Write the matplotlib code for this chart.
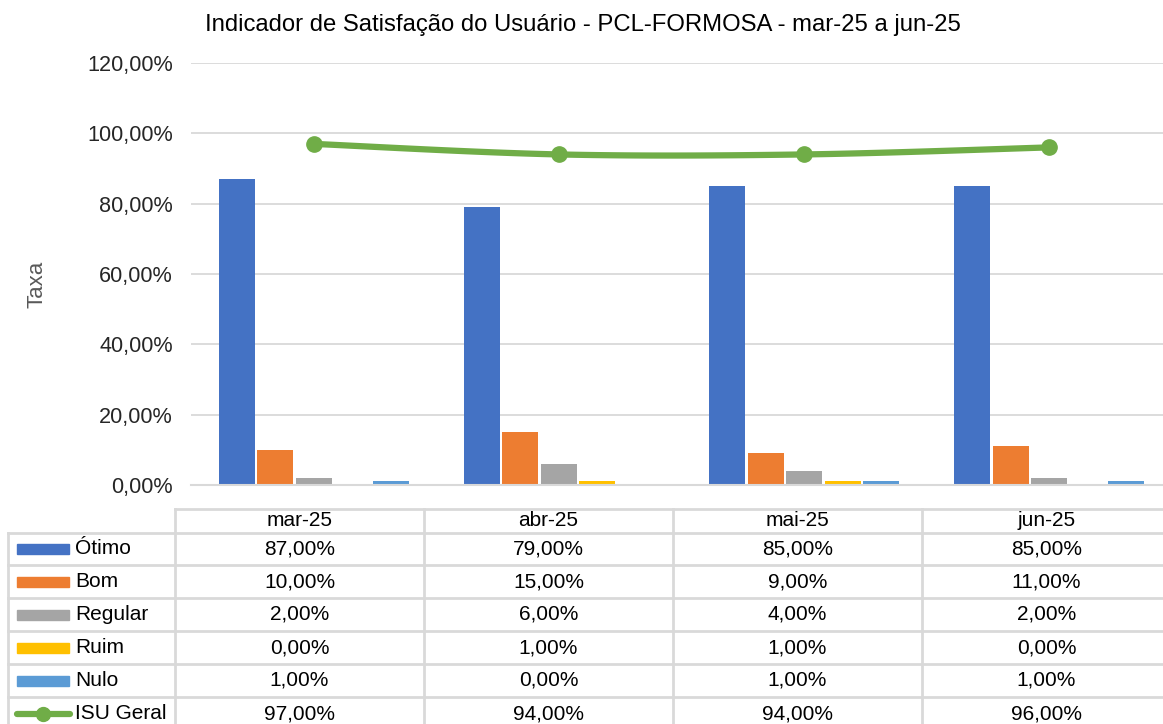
import matplotlib.pyplot as plt
from matplotlib.lines import Line2D
from matplotlib.patches import Rectangle
import numpy as np

plt.rcParams['font.family'] = ['Liberation Sans', 'DejaVu Sans']

meses = ['mar-25', 'abr-25', 'mai-25', 'jun-25']
otimo = [87, 79, 85, 85]
bom = [10, 15, 9, 11]
regular = [2, 6, 4, 2]
ruim = [0, 1, 1, 0]
nulo = [1, 0, 1, 1]
isu_geral = [97, 94, 94, 96]

series = [('Ótimo', otimo, '#4472C4'),
          ('Bom', bom, '#ED7D31'),
          ('Regular', regular, '#A5A5A5'),
          ('Ruim', ruim, '#FFC000'),
          ('Nulo', nulo, '#5B9BD5')]
cor_isu = '#70AD47'
cor_grade = '#D9D9D9'


def pct(v):
    return f'{v:.2f}'.replace('.', ',') + '%'


def curva_suave(x, y, passos=30):
    # bezier segments through the points, like a smoothed line in a spreadsheet
    x = np.asarray(x, float)
    y = np.asarray(y, float)
    px, py = [], []
    n = len(x)
    for i in range(n - 1):
        x0, y0 = x[max(i - 1, 0)], y[max(i - 1, 0)]
        x3, y3 = x[min(i + 2, n - 1)], y[min(i + 2, n - 1)]
        c1 = (x[i] + (x[i + 1] - x0) / 6, y[i] + (y[i + 1] - y0) / 6)
        c2 = (x[i + 1] - (x3 - x[i]) / 6, y[i + 1] - (y3 - y[i]) / 6)
        t = np.linspace(0, 1, passos)
        a = (1 - t) ** 3
        b = 3 * (1 - t) ** 2 * t
        c = 3 * (1 - t) * t ** 2
        d = t ** 3
        px.extend(a * x[i] + b * c1[0] + c * c2[0] + d * x[i + 1])
        py.extend(a * y[i] + b * c1[1] + c * c2[1] + d * y[i + 1])
    return px, py


W, H = 1163, 724
fig = plt.figure(figsize=(W / 100, H / 100), dpi=100)
ax = fig.add_axes([191 / W, 1 - 485 / H, 981 / W, 422 / H])

x = np.arange(len(meses))
largura = 0.147
passo = 0.157
for k, (nome, vals, cor) in enumerate(series):
    ax.bar(x + (k - 2) * passo, vals, width=largura, color=cor, zorder=2)

sx, sy = curva_suave(x, isu_geral)
ax.plot(sx, sy, color=cor_isu, lw=4.5, zorder=3, solid_capstyle='round')
ax.plot(x, isu_geral, 'o', color=cor_isu, ms=11, zorder=4)

ax.set_xlim(-0.5, len(meses) - 0.5)
ax.set_ylim(0, 120)
ax.set_yticks(range(0, 121, 20))
ax.set_yticklabels([pct(v) for v in range(0, 121, 20)], fontsize=15.6, color='#262626')
ax.set_xticks([])
ax.tick_params(axis='y', length=0, pad=13)
ax.grid(axis='y', color=cor_grade, lw=1.3, zorder=0)
for lado in ['left', 'right', 'top']:
    ax.spines[lado].set_visible(False)
ax.spines['bottom'].set_color(cor_grade)
ax.spines['bottom'].set_linewidth(1.5)

fig.text(583 / W, 1 - 25 / H, 'Indicador de Satisfação do Usuário - PCL-FORMOSA - mar-25 a jun-25',
         ha='center', va='center', fontsize=17.2, color='#000000')
fig.text(37 / W, 1 - 284 / H, 'Taxa', rotation=90, ha='center', va='center',
         fontsize=16, color='#595959')

# data table under the chart
cols = [175, 424, 673, 922, 1171]
linhas = [509, 533, 565, 598, 631, 664, 697, 730]


def linha(x0, x1, y0, y1):
    fig.add_artist(Line2D([x0 / W, x1 / W], [1 - y0 / H, 1 - y1 / H],
                          color=cor_grade, lw=2, transform=fig.transFigure))


linha(cols[0], cols[-1], linhas[0], linhas[0])
for yl in linhas[1:]:
    linha(8, cols[-1], yl, yl)
for xc in cols:
    linha(xc, xc, linhas[0], linhas[-1])
linha(8, 8, linhas[1], linhas[-1])

for j, mes in enumerate(meses):
    xc = (cols[j] + cols[j + 1]) / 2
    fig.text(xc / W, 1 - (linhas[0] + linhas[1]) / 2 / H, mes, ha='center', va='center',
             fontsize=15, color='#000000')

rotulos = [(nome, vals, cor) for nome, vals, cor in series] + [('ISU Geral', isu_geral, cor_isu)]
for i, (nome, vals, cor) in enumerate(rotulos):
    yc = (linhas[i + 1] + linhas[i + 2]) / 2
    if nome == 'ISU Geral':
        fig.add_artist(Line2D([17 / W, 70 / W], [1 - yc / H, 1 - yc / H], color=cor, lw=4.5,
                              solid_capstyle='round', transform=fig.transFigure))
        fig.add_artist(Line2D([43 / W], [1 - yc / H], marker='o', ms=10, color=cor,
                              transform=fig.transFigure))
    else:
        fig.add_artist(Rectangle((17 / W, 1 - (yc + 5) / H), 52 / W, 10 / H, color=cor,
                                 transform=fig.transFigure))
    fig.text(75 / W, 1 - yc / H, nome, ha='left', va='center', fontsize=15, color='#000000')
    for j, v in enumerate(vals):
        xc = (cols[j] + cols[j + 1]) / 2
        fig.text(xc / W, 1 - yc / H, pct(v), ha='center', va='center', fontsize=15,
                 color='#000000')

fig.savefig('out.png', dpi=100)
